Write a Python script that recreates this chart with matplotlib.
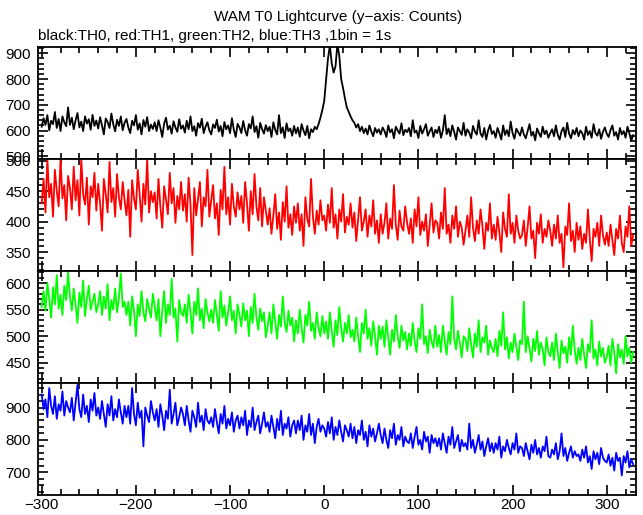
"""
WAM T0 lightcurve, four energy channels stacked (TH0..TH3), 1 bin = 1 s
values read off the reference, sampled every 2 s
"""
import numpy as np
import matplotlib
matplotlib.use("Agg")
import matplotlib.pyplot as plt
from matplotlib.ticker import MultipleLocator

plt.rcParams['font.family'] = ['Liberation Sans', 'DejaVu Sans']

# time axis (s from T0), one sample every 2 s
t_start, t_step, n_bins = -300, 2, 315

th0 = [
    615, 648, 622, 660, 601, 638, 625, 672, 610, 645, 598, 655, 632, 617, 690,
    622, 650, 605, 640, 668, 612, 635, 598, 655, 627, 644, 603, 661, 618, 639,
    608, 652, 620, 585, 647, 633, 610, 666, 624, 597, 642, 618, 655, 601, 630,
    645, 612, 590, 638, 620, 660, 603, 628, 585, 641, 615, 652, 598, 623, 606,
    632, 598, 640, 611, 575, 627, 650, 604, 619, 588, 636, 612, 595, 644, 607,
    620, 592, 638, 605, 655, 598, 617, 580, 629, 611, 646, 590, 615, 632, 601,
    585, 624, 610, 642, 596, 618, 578, 633, 605, 620, 590, 648, 603, 575, 626,
    612, 590, 637, 601, 580, 625, 608, 655, 594, 617, 572, 630, 606, 588, 621,
    598, 615, 575, 632, 602, 585, 660, 590, 612, 571, 628, 597, 608, 580, 618,
    589, 612, 576, 625, 600, 582, 618, 570, 605, 594, 615, 605, 625, 650, 680,
    715, 800, 880, 930, 860, 825, 850, 935, 890, 800, 765, 725, 690, 672, 655,
    640, 630, 612, 625, 598, 615, 590, 608, 585, 620, 596, 578, 610, 592, 605,
    585, 612, 598, 575, 620, 593, 605, 570, 615, 600, 588, 628, 582, 603, 594,
    610, 578, 640, 592, 600, 571, 618, 588, 605, 625, 580, 597, 612, 575, 603,
    590, 615, 572, 600, 660, 586, 608, 578, 620, 595, 565, 612, 598, 583, 630,
    580, 605, 592, 570, 618, 596, 584, 640, 588, 575, 610, 565, 600, 622, 587,
    598, 572, 610, 590, 565, 620, 583, 602, 578, 635, 590, 568, 607, 594, 580,
    612, 585, 570, 598, 625, 580, 595, 562, 608, 590, 575, 615, 586, 600, 572,
    590, 605, 578, 620, 583, 565, 598, 612, 575, 630, 588, 570, 602, 585, 610,
    578, 600, 590, 565, 615, 583, 598, 572, 625, 590, 580, 605, 568, 595, 612,
    588, 575, 602, 620, 580, 594, 565, 610, 585, 598, 572, 615, 590, 560, 582,
]

th1 = [
    430, 470, 415, 503, 440, 462, 408, 485, 450, 425, 503, 438, 460, 402, 475,
    455, 420, 490, 435, 468, 410, 503, 445, 428, 472, 395, 458, 440, 480, 418,
    462, 430, 385, 470, 445, 415, 498, 432, 455, 408, 478, 440, 420, 465, 435,
    410, 452, 375, 468, 438, 420, 485, 445, 400, 462, 428, 503, 415, 450, 432,
    448, 405, 470, 425, 390, 458, 436, 412, 480, 430, 455, 398, 442, 420, 465,
    418, 445, 400, 472, 428, 345, 455, 410, 438, 465, 392, 440, 425, 485, 408,
    435, 460, 405, 430, 378, 452, 420, 490, 412, 440, 395, 462, 425, 408, 448,
    420, 442, 398, 465, 430, 385, 450, 412, 478, 425, 402, 455, 392, 440, 418,
    395, 422, 380, 410, 445, 388, 415, 370, 432, 400, 458, 390, 412, 378, 425,
    398, 430, 385, 412, 360, 440, 405, 392, 470, 408, 380, 418, 395, 435, 402,
    410, 385, 428, 398, 455, 390, 412, 372, 420, 400, 445, 382, 408, 395, 430,
    390, 415, 368, 405, 440, 385, 400, 420, 375, 410, 392, 435, 380, 402, 365,
    412, 380, 398, 430, 372, 405, 388, 460, 395, 370, 418, 392, 385, 425, 398,
    380, 405, 365, 420, 392, 440, 378, 400, 385, 412, 360, 395, 430, 382, 402,
    398, 372, 415, 388, 455, 380, 395, 365, 410, 388, 425, 375, 400, 390, 362,
    385, 410, 375, 440, 390, 368, 402, 380, 420, 392, 355, 398, 385, 430, 372,
    395, 370, 408, 382, 350, 415, 388, 375, 445, 380, 398, 365, 410, 385, 372,
    378, 402, 360, 390, 425, 372, 385, 340, 398, 380, 412, 365, 388, 375, 402,
    385, 360, 395, 372, 410, 365, 380, 325, 392, 378, 430, 368, 385, 350, 398,
    370, 392, 355, 380, 365, 420, 372, 335, 388, 375, 398, 360, 410, 378, 362,
    382, 360, 395, 370, 345, 388, 372, 410, 365, 350, 392, 375, 425, 360, 378,
]

th2 = [
    555, 585, 548, 600, 570, 535, 592, 560, 615, 552, 578, 540, 595, 568, 620,
    575, 548, 590, 560, 525, 582, 555, 605, 538, 570, 595, 550, 565, 580, 545,
    560, 585, 540, 575, 552, 598, 530, 568, 550, 590, 545, 572, 618, 555, 565,
    540, 565, 520, 575, 548, 500, 560, 538, 585, 545, 528, 570, 552, 535, 580,
    555, 530, 570, 500, 548, 585, 525, 560, 540, 608, 535, 552, 490, 568, 545,
    538, 560, 525, 578, 545, 505, 565, 540, 590, 530, 552, 515, 570, 545, 528,
    550, 525, 568, 540, 510, 585, 535, 558, 520, 545, 575, 530, 548, 505, 560,
    540, 518, 562, 530, 548, 500, 555, 525, 580, 535, 512, 552, 528, 545, 498,
    520, 545, 505, 560, 528, 495, 540, 518, 575, 525, 508, 548, 520, 535, 490,
    530, 505, 550, 515, 488, 540, 520, 565, 510, 525, 495, 545, 515, 500, 538,
    505, 528, 495, 545, 510, 480, 530, 502, 555, 515, 490, 525, 505, 540, 498,
    512, 490, 535, 500, 470, 525, 505, 550, 495, 515, 482, 528, 500, 465, 520,
    495, 518, 480, 530, 498, 465, 512, 490, 540, 500, 478, 520, 492, 508, 475,
    505, 482, 525, 490, 470, 515, 495, 560, 485, 500, 468, 512, 490, 478, 520,
    480, 502, 470, 520, 490, 465, 508, 485, 575, 495, 475, 510, 488, 460, 500,
    495, 472, 515, 485, 460, 505, 480, 530, 470, 498, 488, 520, 465, 492, 478,
    470, 495, 462, 510, 482, 545, 475, 498, 458, 488, 470, 505, 480, 455, 492,
    485, 565, 470, 500, 478, 452, 495, 472, 510, 465, 488, 475, 445, 498, 470,
    462, 488, 455, 505, 470, 440, 492, 468, 480, 450, 498, 465, 520, 475, 448,
    478, 455, 495, 465, 440, 485, 470, 530, 458, 475, 445, 490, 462, 478, 450,
    460, 482, 445, 495, 468, 430, 485, 460, 475, 448, 500, 462, 478, 450, 470,
]

th3 = [
    940, 895, 925, 870, 960, 905, 880, 935, 865, 910, 890, 950, 875, 920, 900,
    885, 930, 860, 915, 970, 895, 870, 940, 880, 905, 855, 925, 890, 945, 875,
    900, 865, 920, 880, 840, 910, 875, 935, 860, 895, 870, 925, 885, 850, 905,
    870, 905, 850, 960, 880, 845, 915, 868, 890, 780, 900, 875, 855, 920, 885,
    860, 895, 840, 910, 875, 830, 890, 865, 955, 850, 880, 915, 845, 870, 900,
    880, 845, 905, 860, 825, 890, 870, 840, 915, 855, 875, 830, 895, 860, 850,
    870, 840, 895, 855, 820, 880, 850, 905, 835, 865, 845, 885, 825, 860, 875,
    835, 870, 845, 890, 815, 860, 840, 900, 830, 855, 875, 820, 850, 885, 840,
    855, 825, 875, 840, 805, 865, 830, 890, 815, 850, 835, 870, 810, 845, 860,
    820, 860, 830, 875, 800, 845, 825, 880, 815, 850, 790, 840, 865, 825, 845,
    835, 810, 855, 820, 870, 800, 840, 815, 860, 825, 795, 845, 830, 810, 850,
    805, 840, 790, 830, 815, 860, 800, 825, 780, 845, 810, 835, 795, 820, 850,
    815, 790, 835, 800, 775, 830, 805, 850, 785, 815, 800, 840, 780, 810, 795,
    790, 820, 775, 810, 840, 785, 800, 770, 825, 795, 810, 760, 815, 790, 805,
    780, 805, 770, 820, 790, 760, 810, 785, 840, 775, 795, 815, 765, 800, 780,
    790, 770, 850, 775, 800, 760, 785, 815, 770, 795, 750, 780, 805, 765, 790,
    760, 790, 770, 810, 745, 780, 765, 800, 775, 755, 790, 770, 820, 760, 780,
    775, 750, 790, 765, 740, 785, 760, 800, 755, 775, 745, 780, 765, 810, 750,
    745, 770, 755, 790, 740, 765, 820, 750, 775, 735, 760, 780, 745, 765, 750,
    755, 735, 770, 745, 780, 730, 750, 710, 765, 740, 760, 725, 775, 745, 735,
    730, 755, 720, 745, 705, 760, 735, 745, 690, 750, 730, 765, 715, 740, 725,
]

channels = [th0, th1, th2, th3]
colors = ['black', 'red', '#00ff00', 'blue']
ylims = [(490, 925), (319, 503), (412, 623), (630, 976)]
ymajor = [100, 50, 50, 100]
yminor = [20, 10, 10, 20]


def main():
    t = t_start + t_step * np.arange(n_bins)

    fig, axes = plt.subplots(4, 1, sharex=True, figsize=(6.43, 5.15), dpi=100,
                             gridspec_kw={'hspace': 0})
    fig.subplots_adjust(left=0.059, right=0.989, top=0.909, bottom=0.039)

    for ax, y, c, yl, maj, mnr in zip(axes, channels, colors, ylims, ymajor, yminor):
        ax.plot(t, y, color=c, lw=1.3)
        ax.set_ylim(*yl)
        ax.set_xlim(-304, 331)
        ax.yaxis.set_major_locator(MultipleLocator(maj))
        ax.yaxis.set_minor_locator(MultipleLocator(mnr))
        ax.xaxis.set_major_locator(MultipleLocator(100))
        ax.xaxis.set_minor_locator(MultipleLocator(20))
        ax.tick_params(which='both', direction='in', top=True, right=True,
                       width=1.2, labelsize=11, pad=5)
        ax.tick_params(which='major', length=7)
        ax.tick_params(which='minor', length=4)
        ax.tick_params(axis='x', pad=2)
        for s in ax.spines.values():
            s.set_linewidth(1.3)

    fig.text(0.525, 0.967, "WAM T0 Lightcurve (y\u2212axis: Counts)",
             ha='center', va='center', fontsize=11)
    fig.text(0.059, 0.931, "black:TH0, red:TH1, green:TH2, blue:TH3 ,1bin = 1s",
             ha='left', va='center', fontsize=11)

    fig.savefig("out.png", dpi=100)
    plt.close(fig)


if __name__ == "__main__":
    main()
